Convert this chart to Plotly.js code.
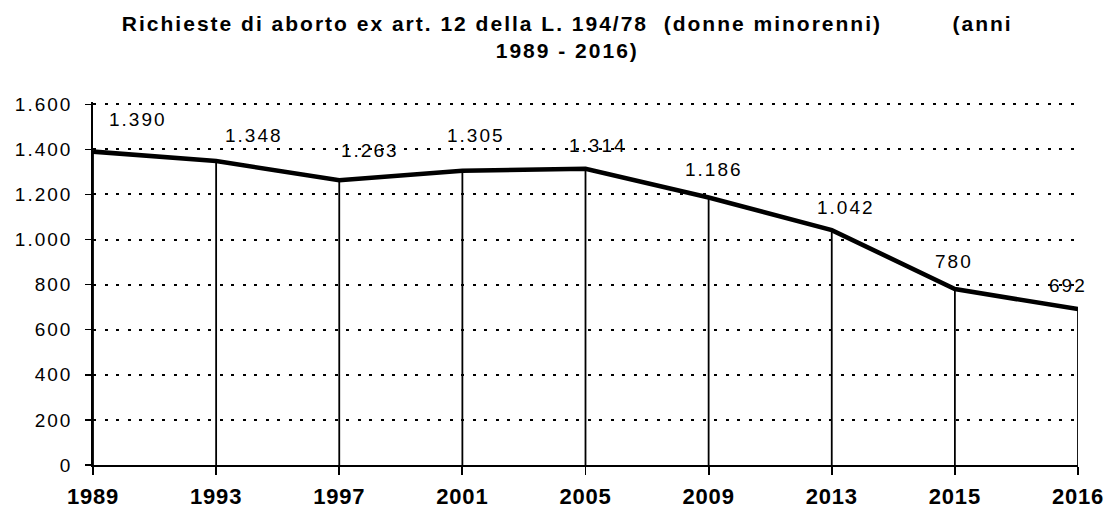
<!DOCTYPE html>
<html>
<head>
<meta charset="utf-8">
<script src="https://cdn.plot.ly/plotly-3.0.1.min.js"></script>
<style>
html,body{margin:0;padding:0;background:#fff;}
#chart{width:1108px;height:514px;}
#chart .gtitle{letter-spacing:2px;}
#chart .ytick text{letter-spacing:2px;}
#chart .xtick text{letter-spacing:0.8px;}
#chart .annotation-text{letter-spacing:2px;}
</style>
</head>
<body>
<div id="chart"></div>
<script>
// Data
const years = ['1989', '1993', '1997', '2001', '2005', '2009', '2013', '2015', '2016'];
const requests = [1390, 1348, 1263, 1305, 1314, 1186, 1042, 780, 692];
const yTicks = [0, 200, 400, 600, 800, 1000, 1200, 1400, 1600];

// label placement offsets (px) relative to each point
const labelDx = [45, 38, 31, 14, 12, 5, 14, -1, -10];
const labelDy = [32, 26, 30, 35, 23, 28, 23, 28, 23];

function fmt(v) {
  return String(v).replace(/\B(?=(\d{3})+(?!\d))/g, '.');
}

const trace = {
  x: years,
  y: requests,
  type: 'scatter',
  mode: 'lines',
  line: {color: '#000', width: 4.6},
  error_y: {
    type: 'data',
    symmetric: false,
    array: requests.map(() => 0),
    arrayminus: requests,
    width: 0,
    thickness: 1.8,
    color: '#000'
  },
  hoverinfo: 'x+y'
};

const annotations = years.map((yr, i) => ({
  x: i, y: requests[i], xref: 'x', yref: 'y',
  text: fmt(requests[i]),
  showarrow: false,
  xanchor: 'center', yanchor: 'middle',
  xshift: labelDx[i], yshift: labelDy[i],
  font: {family: 'Liberation Sans, Arial, sans-serif', size: 19, color: '#000'}
}));

const layout = {
  width: 1108, height: 514,
  paper_bgcolor: '#fff', plot_bgcolor: '#fff',
  margin: {l: 93, r: 30, t: 102, b: 49},
  showlegend: false,
  title: {
    text: 'Richieste di aborto ex art. 12 della L. 194/78\u00a0 (donne minorenni)\u00a0\u00a0\u00a0\u00a0\u00a0\u00a0\u00a0\u00a0 (anni<br>1989 - 2016)',
    x: 0.512, xanchor: 'center', xref: 'container',
    y: 0.94, yanchor: 'top', yref: 'container',
    font: {family: 'Liberation Sans, Arial, sans-serif', size: 21, color: '#000', weight: 'bold'}
  },
  xaxis: {
    type: 'category',
    range: [0, years.length - 1],
    showgrid: false,
    zeroline: false,
    showline: true, linecolor: '#000', linewidth: 1.8,
    ticks: 'outside', ticklen: 8, tickwidth: 1.8, tickcolor: '#000',
    ticklabelstandoff: 3,
    tickfont: {family: 'Liberation Sans, Arial, sans-serif', size: 22, color: '#000', weight: 'bold'},
    fixedrange: true
  },
  yaxis: {
    range: [0, 1610],
    tickmode: 'array',
    tickvals: yTicks,
    ticktext: yTicks.map(fmt),
    showgrid: true, gridcolor: '#000', gridwidth: 2, griddash: '3px,8.5px',
    zeroline: false,
    showline: true, linecolor: '#000', linewidth: 1.8,
    ticks: 'outside', ticklen: 6, tickwidth: 1.5, tickcolor: '#000',
    ticklabelstandoff: 9,
    tickfont: {family: 'Liberation Sans, Arial, sans-serif', size: 19, color: '#000'},
    fixedrange: true
  },
  annotations: annotations
};

Plotly.newPlot('chart', [trace], layout, {displayModeBar: false, staticPlot: true});
</script>
</body>
</html>
